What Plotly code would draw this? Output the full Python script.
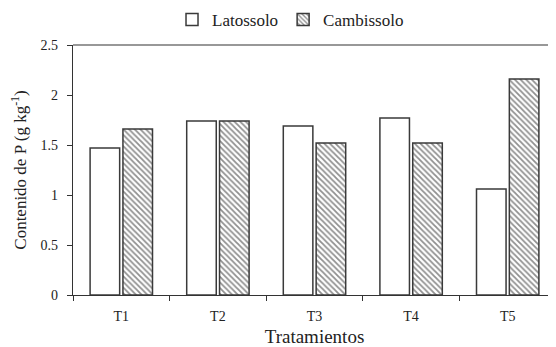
import plotly.graph_objects as go

categories = ["T1", "T2", "T3", "T4", "T5"]
latossolo = [1.47, 1.74, 1.69, 1.77, 1.06]
cambissolo = [1.66, 1.74, 1.52, 1.52, 2.16]
y_ticks = [0, 0.5, 1, 1.5, 2, 2.5]
y_ticklabels = ["0", "0.5", "1", "1.5", "2", "2.5"]

font = "'Liberation Serif', 'Times New Roman', serif"

fig = go.Figure()
fig.add_trace(go.Bar(
    x=categories, y=latossolo, name="Latossolo",
    marker=dict(color="white", line=dict(color="#3a3a3a", width=1.5)),
))
fig.add_trace(go.Bar(
    x=categories, y=cambissolo, name="Cambissolo",
    marker=dict(color="white", line=dict(color="#3a3a3a", width=1.5),
                pattern=dict(shape="\\", fgcolor="#222222", bgcolor="white",
                             size=4, solidity=0.45)),
))

# page has an 8px body margin: figure is 548x339 placed at (8,8)
fig.update_layout(
    width=548, height=339,
    margin=dict(l=65, r=0, t=37, b=52, autoexpand=False),
    paper_bgcolor="white", plot_bgcolor="white",
    barmode="group", bargap=0.32, bargroupgap=0.1,
    font=dict(family=font, color="#222222", size=14),
    showlegend=True,
    legend=dict(orientation="h", x=0.205, xanchor="left",
                yref="container", y=1 - 12 / 339, yanchor="middle",
                font=dict(family=font, size=17, color="#222222"),
                itemwidth=30, tracegroupgap=0, bgcolor="rgba(0,0,0,0)"),
    xaxis=dict(
        showline=True, linecolor="#333333", linewidth=1.2, mirror=False,
        ticks="outside", tickson="boundaries", ticklen=5, tickcolor="#333333",
        ticklabelstandoff=8,
        tickfont=dict(family=font, size=14, color="#222222"),
        title=dict(text="Tratamientos", font=dict(family=font, size=19, color="#222222"), standoff=6),
        showgrid=False,
    ),
    yaxis=dict(
        range=[0, 2.5], tickvals=y_ticks, ticktext=y_ticklabels,
        showline=True, linecolor="#333333", linewidth=1.2,
        ticks="outside", ticklen=5, tickcolor="#333333",
        ticklabelstandoff=6,
        tickfont=dict(family=font, size=14, color="#222222"),
        title=dict(text="Contenido de P (g kg<sup>-1</sup>)", font=dict(family=font, size=17, color="#222222"), standoff=12),
        showgrid=False, zeroline=False,
    ),
)
fig.add_shape(type="line", xref="paper", yref="paper", x0=0, x1=1, y0=1, y1=1,
              line=dict(color="#333333", width=1.2))

fig.write_html("out.html")
